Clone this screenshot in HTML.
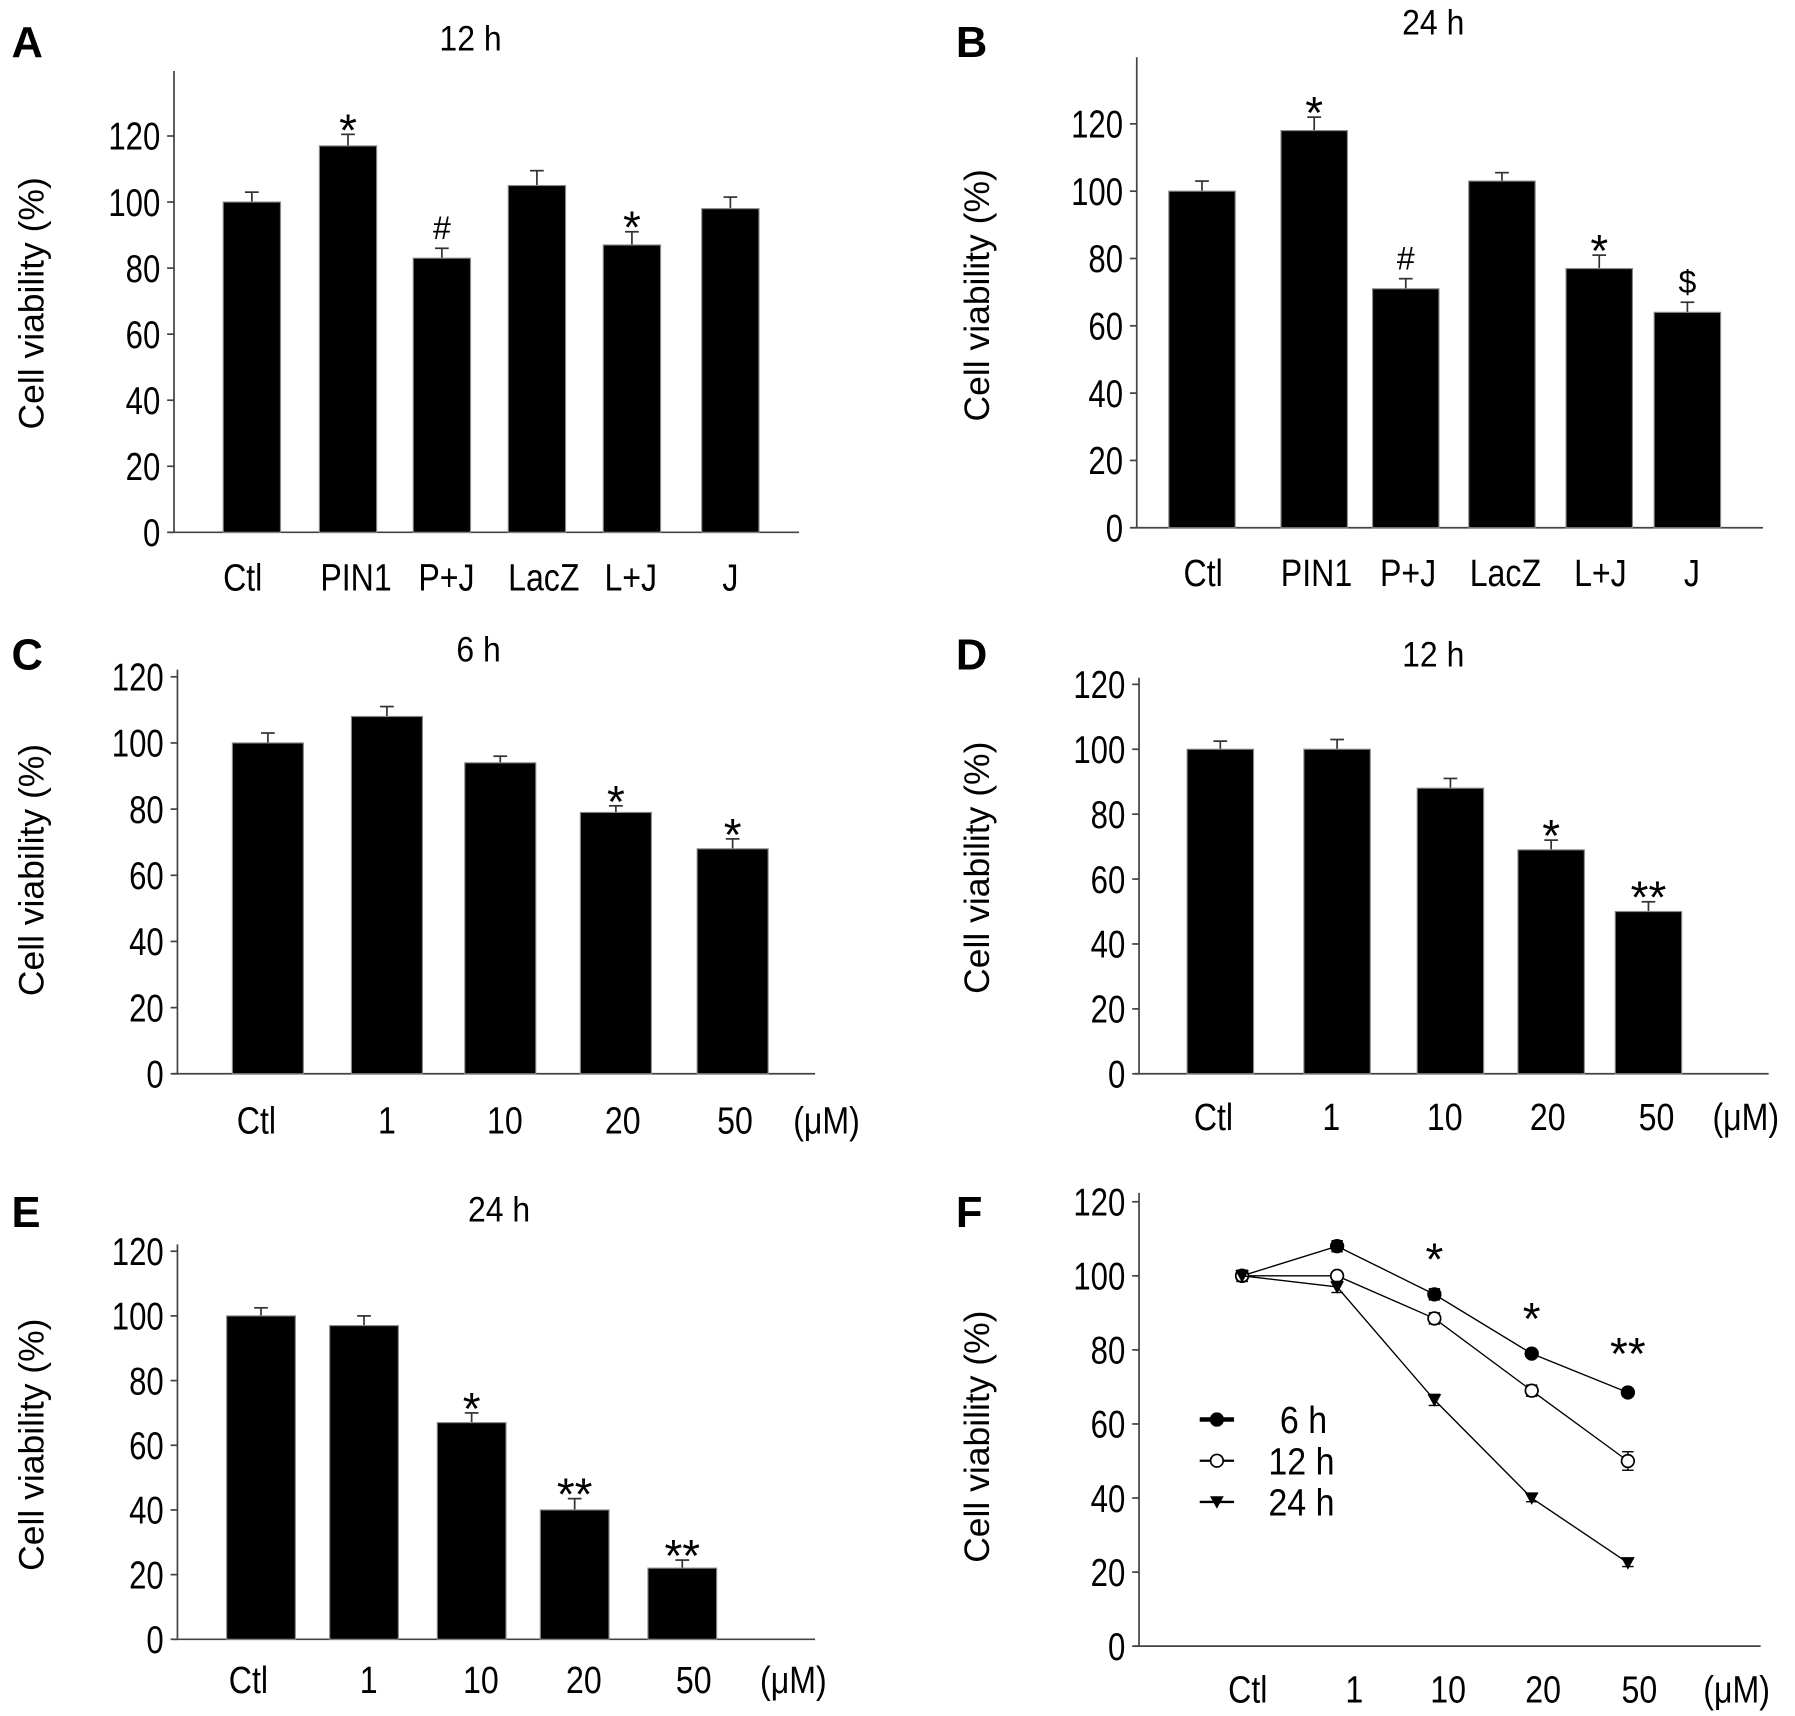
<!DOCTYPE html>
<html><head><meta charset="utf-8"><style>
html,body{margin:0;padding:0;background:#fff}
svg{display:block}
text{font-family:"Liberation Sans",Arial,sans-serif;fill:#000}
</style></head><body>
<svg id="fig" width="1795" height="1716" viewBox="0 0 1568 1499" xmlns="http://www.w3.org/2000/svg"></svg>
<script>
// ---- data ----
const catsAB = ["Ctl","PIN1","P+J","LacZ","L+J","J"];
const catsDose = ["Ctl","1","10","20","50"];
const valsA = [100,117,83,105,87,98];
const errA = [3,3.5,3,4.5,4,3.5];
const markA = ["","*","#","","*",""];
const valsB = [100,118,71,103,77,64];
const errB = [3,4,3,2.5,4,3];
const markB = ["","*","#","","*","$"];
const valsC = [100,108,94,79,68];
const errC = [3,3,2,2,3];
const markC = ["","","","*","*"];
const valsD = [100,100,88,69,50];
const errD = [2.5,3,3,3,3];
const markD = ["","","","*","**"];
const valsE = [100,97,67,40,22];
const errE = [2.5,3,3,3.5,2.5];
const markE = ["","","*","**","**"];
const f6 = [100,108,95,79,68.5];
const f12 = [100,100,88.5,69,50];
const f24 = [100,97,66.5,40,22.5];
const fErr = [1.5,1.5,1.5,1,1];
const f12Err = [1,1,1.5,1.5,2.5];
const markF = ["","","*","*","**"];
const yTicks = [0,20,40,60,80,100,120];

const NS="http://www.w3.org/2000/svg";
const svg=document.getElementById('fig');
function el(tag,attrs,parent){const e=document.createElementNS(NS,tag);for(const k in attrs)e.setAttribute(k,attrs[k]);(parent||svg).appendChild(e);return e;}
function txt(s,x,y,size,anchor,parent,sx){const t=el('text',{transform:`translate(${x},${y}) scale(${sx||0.8},1)`,'font-size':size,'text-anchor':anchor||'middle'},parent);t.textContent=s;return t;}

function panel(o){
  const g=el('g',{});
  
  
  const y=v=>o.y0-(v/20)*o.step;
  const L=txt(o.letter,o.lx,o.ly,38,'start',g,1);L.setAttribute('font-weight','bold');
  
  if(o.title){const T=txt(o.title,o.tx,o.ty,31,'middle',g,0.9);}
  const ya=el('line',{x1:o.ax,y1:o.ytop,x2:o.ax,y2:o.y0,stroke:'#444','stroke-width':1.5},g);
  
  const xa=el('line',{x1:o.ax-4,y1:o.y0,x2:o.axEnd,y2:o.y0,stroke:'#444','stroke-width':1.5},g);
  
  yTicks.forEach(v=>{
    el('line',{x1:o.ax-6,y1:y(v),x2:o.ax,y2:y(v),stroke:'#444','stroke-width':1.5},g);
    const t=txt(String(v),o.ax-12,y(v)+(o.tickDy||12),34,'end',g);
    
  });
  const yl=el('text',{transform:`translate(${o.ylx},${o.yly}) rotate(-90)`,'font-size':31,'text-anchor':'middle'},g);
  yl.textContent='Cell viability (%)';
  
  o.cats.forEach((c,i)=>{const t=txt(c,o.lxs[i],o.laby,33,'middle',g,0.85);
    });
  if(o.unit){const u=txt('(μM)',o.unitx,o.laby,33,'middle',g,0.85);}
  if(o.vals){
    o.vals.forEach((v,i)=>{
      const cx=o.xs[i],w=o.bw;
      const e=o.errs[i];
      el('line',{x1:cx,y1:y(v),x2:cx,y2:y(v+e),stroke:'#333','stroke-width':1.5},g);
      el('line',{x1:cx-6,y1:y(v+e),x2:cx+6,y2:y(v+e),stroke:'#333','stroke-width':1.5},g);
      const r=el('rect',{x:cx-w/2,y:y(v),width:w,height:o.y0-y(v),fill:'#000',stroke:'#888','stroke-width':1},g);
      
      
      if(o.marks[i]){const star=o.marks[i].indexOf('*')>=0;
        const m=txt(o.marks[i],cx,y(v+e)-8+(star?18:0),star?40:28,'middle',g,1);
        }
    });
  }
  return {g,y};
}

panel({letter:'A',lx:10,ly:50,title:'12 h',tx:411,ty:44,ax:152,ytop:62,y0:465,step:57.7,axEnd:698,
  ylx:38,yly:265,cats:catsAB,lxs:[212,311,390,475,551,638],laby:516,vals:valsA,errs:errA,marks:markA,xs:[220,304,386,469,552,638],bw:50});
panel({letter:'B',lx:835,ly:50,title:'24 h',tx:1252,ty:30,ax:993,ytop:50,y0:461,step:58.8,axEnd:1540,
  ylx:864,yly:258,cats:catsAB,lxs:[1051,1150,1230,1315,1398,1478],laby:512,vals:valsB,errs:errB,marks:markB,xs:[1050,1148,1228,1312,1397,1474],bw:58});
panel({letter:'C',lx:10,ly:585,title:'6 h',tx:418,ty:578,ax:155,ytop:585,y0:938,step:57.8,axEnd:712,
  ylx:38,yly:760,cats:catsDose,lxs:[224,338,441,544,642],laby:990,unit:true,unitx:722,vals:valsC,errs:errC,marks:markC,xs:[234,338,437,538,640],bw:62});
panel({letter:'D',lx:835,ly:585,title:'12 h',tx:1252,ty:582,ax:995,ytop:592,y0:938,step:56.7,axEnd:1545,
  ylx:864,yly:758,cats:catsDose,lxs:[1060,1163,1262,1352,1447],laby:987,unit:true,unitx:1525,vals:valsD,errs:errD,marks:markD,xs:[1066,1168,1267,1355,1440],bw:58});
panel({letter:'E',lx:10,ly:1072,title:'24 h',tx:436,ty:1067,ax:155,ytop:1087,y0:1432,step:56.5,axEnd:712,
  ylx:38,yly:1262,cats:catsDose,lxs:[217,322,420,510,606],laby:1479,unit:true,unitx:693,vals:valsE,errs:errE,marks:markE,xs:[228,318,412,502,596],bw:60});
const F=panel({letter:'F',lx:835,ly:1072,ax:995,ytop:1042,y0:1438,step:64.7,axEnd:1538,
  ylx:864,yly:1255,cats:catsDose,lxs:[1090,1183,1265,1348,1432],laby:1487,unit:true,unitx:1517});
const fx=[1085,1168,1253,1338,1422];
const series=[{v:f6,e:fErr,m:'circle-filled',n:'6 h'},{v:f12,e:f12Err,m:'circle-open',n:'12 h'},{v:f24,e:fErr,m:'triangle',n:'24 h'}];
function marker(type,x,y,parent){
  if(type==='triangle') return el('polygon',{points:`${x-6},${y-5} ${x+6},${y-5} ${x},${y+6}`,fill:'#000'},parent);
  return el('circle',{cx:x,cy:y,r:5.5,fill:type==='circle-open'?'#fff':'#000',stroke:'#000','stroke-width':1.5},parent);
}
series.forEach(s=>{
  const g=el('g',{},F.g);
  
  
  el('polyline',{points:s.v.map((v,i)=>`${fx[i]},${F.y(v)}`).join(' '),fill:'none',stroke:'#000','stroke-width':1.2},g);
  s.v.forEach((v,i)=>{
    el('line',{x1:fx[i],y1:F.y(v-s.e[i]),x2:fx[i],y2:F.y(v+s.e[i]),stroke:'#000','stroke-width':1.2},g);
    el('line',{x1:fx[i]-5,y1:F.y(v+s.e[i]),x2:fx[i]+5,y2:F.y(v+s.e[i]),stroke:'#000','stroke-width':1.2},g);
    el('line',{x1:fx[i]-5,y1:F.y(v-s.e[i]),x2:fx[i]+5,y2:F.y(v-s.e[i]),stroke:'#000','stroke-width':1.2},g);
    const p=marker(s.m,fx[i],F.y(v),g);
    
    
  });
});
markF.forEach((m,i)=>{if(m){const t=txt(m,fx[i],F.y(f6[i]+f12Err[i])-12,40,'middle',F.g,1);
  }});
const lg=el('g',{},F.g);


series.forEach((s,i)=>{
  const yy=1240+i*36;
  el('line',{x1:1048,y1:yy,x2:1078,y2:yy,stroke:'#000','stroke-width':i===0?4:2},lg);
  marker(s.m,1063,yy,lg);
  const t=txt(s.n,i===0?1118:1108,yy+12,33,'start',lg,0.9);
  
});
</script>
</body></html>
